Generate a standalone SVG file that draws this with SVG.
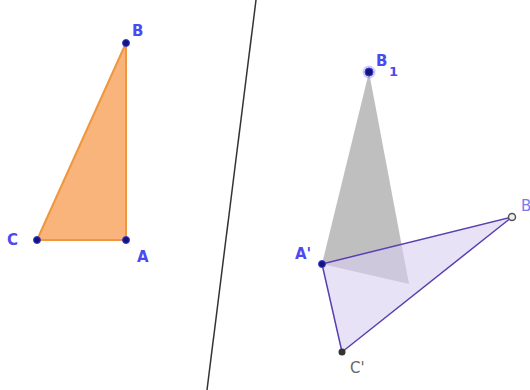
<svg xmlns="http://www.w3.org/2000/svg" width="530" height="390" viewBox="0 0 530 390">
<style>
.lbl{font-family:"DejaVu Sans","Liberation Sans",sans-serif;font-size:15px;fill:#4a4af0;font-weight:bold}
.lblg{font-family:"DejaVu Sans","Liberation Sans",sans-serif;font-size:15px;fill:#666}
.pt{fill:#14147a;stroke:#3a3ad8;stroke-width:1}
</style>
<rect width="530" height="390" fill="#ffffff"/>
<g id="mirror-line">
<line x1="256" y1="0" x2="207" y2="390" stroke="#333" stroke-width="1.5"/>
</g>
<g id="triangle-ABC">
<polygon points="126,43 37,240 126,240" fill="#f8b47a" stroke="#f0963c" stroke-width="2" stroke-linejoin="round"/>
</g>
<g id="triangle-gray">
<polygon points="369,72 322,264 409,284" fill="#8a8a8a" fill-opacity="0.55" stroke="none"/>
</g>
<g id="triangle-prime">
<polygon points="322,264 512,217 342,352" fill="#d8cff0" fill-opacity="0.6" stroke="#5a40b0" stroke-width="1.5" stroke-linejoin="round"/>
</g>
<g id="point-B">
<circle class="pt" cx="126" cy="43" r="3.5"/>
<text class="lbl" x="132" y="36">B</text>
</g>
<g id="point-C">
<circle class="pt" cx="37" cy="240" r="3.5"/>
<text class="lbl" x="7" y="245">C</text>
</g>
<g id="point-A">
<circle class="pt" cx="126" cy="240" r="3.5"/>
<text class="lbl" x="137" y="262">A</text>
</g>
<g id="point-B1">
<circle cx="369" cy="72" r="6.5" fill="#8080ff" fill-opacity="0.4"/>
<circle class="pt" cx="369" cy="72" r="4"/>
<text class="lbl" x="376" y="66">B</text>
<text class="lbl" x="389" y="76" style="font-size:13px">1</text>
</g>
<g id="point-A-prime">
<circle class="pt" cx="322" cy="264" r="3.5"/>
<text class="lbl" x="295" y="259">A'</text>
</g>
<g id="point-B-prime">
<circle cx="512" cy="217" r="3.5" fill="#eeeeee" stroke="#555" stroke-width="1.5"/>
<text class="lbl" x="521" y="211" style="fill:#7a7af0;font-weight:normal">B</text>
</g>
<g id="point-C-prime">
<circle cx="342" cy="352" r="3.5" fill="#333"/>
<text class="lblg" x="350" y="373">C'</text>
</g>
</svg>
